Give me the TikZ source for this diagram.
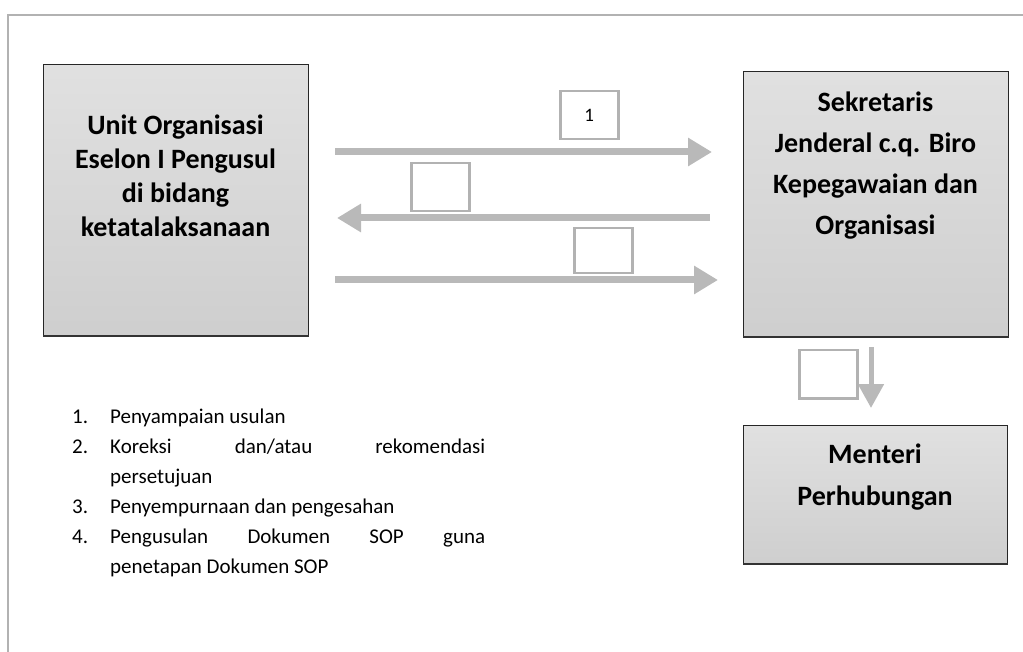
\documentclass[tikz,border=0pt]{standalone}
\usepackage{fontspec}
\setmainfont{Carlito}
\usetikzlibrary{arrows.meta}
\begin{document}
\begin{tikzpicture}[x=1pt,y=-1pt,
  bigbox/.style={draw=black!85, line width=0.8pt, top color=gray!24, bottom color=gray!38, inner sep=0pt},
  boxtext/.style={font=\bfseries\fontsize{28}{34}\selectfont, align=center, inner sep=0pt},
  tag/.style={draw=gray!60, line width=2.5pt, fill=white, inner sep=0pt, minimum width=58pt, minimum height=48pt},
  flow/.style={gray!55, line width=7pt, -{Triangle[length=24pt,width=27pt]}},
  flowdown/.style={gray!55, line width=5pt, -{Triangle[length=24pt,width=25pt]}},
  edge/.style={black!80, line width=2pt}
]
\useasboundingbox (0,0) rectangle (1023,652);
\draw[gray!60, line width=2pt] (1023,15) -- (8,15) -- (8,652);

% big boxes
\node[bigbox, minimum width=265pt, minimum height=271pt, anchor=north west] (L) at (43,64) {};
\draw[edge] (L.south west) -- (L.south east);
\node[boxtext, anchor=base] (Ltext) at (175.5,237) {Unit Organisasi\\Eselon I Pengusul\\di bidang\\ketatalaksanaan};

\node[bigbox, minimum width=265pt, minimum height=265pt, anchor=north west] (R) at (743,71) {};
\draw[edge] (R.south west) -- (R.south east);
\node[boxtext, font=\bfseries\fontsize{28}{41}\selectfont, anchor=base] (Rtext) at (875.5,235) {Sekretaris\\Jenderal c.q. Biro\\Kepegawaian dan\\Organisasi};

\node[bigbox, minimum width=264pt, minimum height=138pt, anchor=north west] (M) at (743,425) {};
\draw[edge] (M.south west) -- (M.south east);
\node[boxtext, font=\bfseries\fontsize{28}{42}\selectfont, anchor=base] (Mtext) at (875,505) {Menteri\\Perhubungan};

% arrows
\coordinate (a1s) at (335,152); \coordinate (a1e) at (712,152);
\coordinate (a2s) at (710,218); \coordinate (a2e) at (337,218);
\coordinate (a3s) at (335,280); \coordinate (a3e) at (718,280);
\coordinate (a4s) at (871,347); \coordinate (a4e) at (871,408);
\draw[flow] (a1s) -- (a1e);
\draw[flow] (a2s) -- (a2e);
\draw[flow] (a3s) -- (a3e);
\draw[flowdown] (a4s) -- (a4e);

% tags
\node[tag, anchor=north west, font=\fontsize{19}{22}\selectfont] (t1) at (559,90) {1};
\node[tag, anchor=north west] (t2) at (410,162) {};
\node[tag, anchor=north west, minimum height=45pt] (t3) at (573,227) {};
\node[tag, anchor=north west] (t4) at (798,349) {};

% list
\node[anchor=base west, align=left, inner sep=0pt, font=\fontsize{21}{30}\selectfont] (list) at (72,573) {%
\makebox[38pt][l]{1.}Penyampaian usulan\\
\makebox[38pt][l]{2.}\makebox[375pt][s]{Koreksi dan/atau rekomendasi}\\
\hspace*{38pt}persetujuan\\
\makebox[38pt][l]{3.}Penyempurnaan dan pengesahan\\
\makebox[38pt][l]{4.}\makebox[375pt][s]{Pengusulan Dokumen SOP guna}\\
\hspace*{38pt}penetapan Dokumen SOP};
\end{tikzpicture}
\end{document}
